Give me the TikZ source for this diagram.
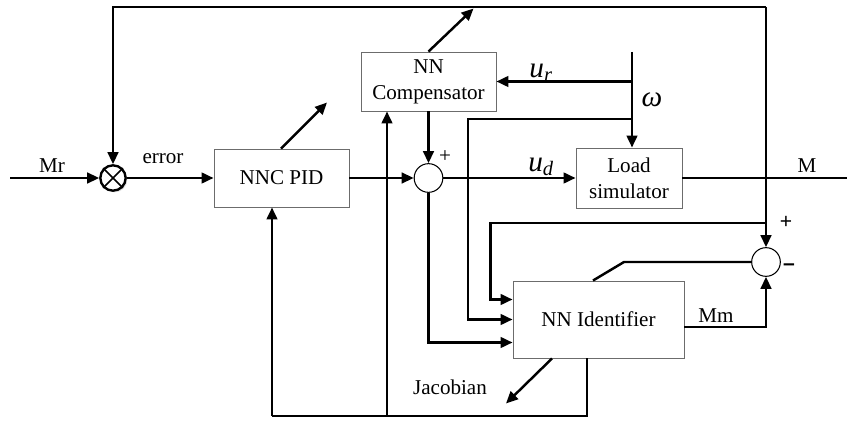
\documentclass[tikz,border=0pt]{standalone}
\usepackage{fontspec}
\setmainfont{Liberation Serif}
\setsansfont{Liberation Sans}
\usepackage{tikz}
\usetikzlibrary{arrows.meta,calc,positioning,shadows}
\tikzset{
    myblock/.style={draw=gray!85!black,line width=0.8pt,fill=white,align=center,inner sep=0pt},
    mysum/.style={circle,draw=black,line width=0.9pt,fill=white,minimum size=8.6mm,inner sep=0pt},
    mysig/.style={line width=2.1pt,draw=black,-{Triangle[length=3.6mm,width=3.2mm]}},
    myline/.style={line width=2.1pt,draw=black},
    mymath/.style={font=\fontsize{25}{27}\selectfont\itshape},
    every node/.style={font=\fontsize{18}{22}\selectfont}
}
\begin{document}
\begin{tikzpicture}[x=0.3mm,y=-0.3mm]
  \useasboundingbox (0,0) rectangle (847,421);
  \node[myblock,minimum width=40.5mm,minimum height=17.4mm] (pid) at (281.5,178) {NNC PID};
  \node[myblock,minimum width=40.5mm,minimum height=17.7mm] (comp) at (428.5,81.5) {NN\\Compensator};
  \node[myblock,minimum width=31.8mm,minimum height=18mm] (load) at (629,178) {Load\\simulator};
  \node[myblock,minimum width=51.3mm,minimum height=23.1mm] (ident) at (598.5,319.5) {NN Identifier};
  \node[mysum,line width=2pt,minimum size=7.6mm,
        drop shadow={opacity=0.25,shadow xshift=0.5mm,shadow yshift=-0.5mm}] (mult) at (113,178) {};
  \draw[line width=1.5pt] (mult.45) -- (mult.225) (mult.135) -- (mult.315);
  \node[mysum] (sum1) at (428.5,178) {};
  \node[mysum] (sum2) at (766,262) {};
  \coordinate (in) at (10,178);
  \coordinate (out) at (847,178);
  \coordinate (tr) at (766,7);
  \coordinate (w) at (632,52);
  \coordinate (wb) at (632,119);
  \coordinate (fb) at (587,416);
  \coordinate (bm) at (387,416);
  \coordinate (bl) at (272,416);
  \draw[mysig] (in) -- (mult.west);
  \draw[mysig] (mult.east) -- (pid.west);
  \draw[mysig] (pid.east) -- (sum1.west);
  \draw[mysig] (comp.south) -- (sum1.north);
  \draw[mysig] (sum1.east) -- (load.west);
  \draw[myline] (load.east) -- (out);
  \draw[mysig] (tr) -| (mult.north);
  \draw[mysig] (tr) -- (sum2.north);
  \draw[mysig] (w) -- (w |- load.north);
  \draw[mysig] (w |- comp.east) -- (comp.east);
  \draw[mysig] (wb) -| (468,319.5) -- (ident.west);
  \draw[mysig] (sum1.south) |- ($(ident.west)+(0,23)$);
  \draw[mysig] (766,223) -| ($(ident.west)+(-22,-20)$) -- ($(ident.west)+(0,-20)$);
  \draw[myline] ($(ident.north)+(-5.5,0)$) -- (624,262) -- (sum2.west);
  \draw[mysig] ($(ident.east)+(0,7.5)$) -| (sum2.south);
  \draw[mysig] ($(ident.south)+(-46.5,0)$) -- ++(-46,45);
  \draw[myline] ($(ident.south)+(-11.5,0)$) -- (fb) -- (bl);
  \draw[mysig] (bl) -- (bl |- pid.south);
  \draw[mysig] (bm) -- (bm |- comp.south);
  \draw[mysig] ($(pid.north)+(-0.5,0)$) -- ++(46,-46);
  \draw[mysig] (comp.north) -- ++(45,-43);
  \node (lmr) at (52,166) {Mr};
  \node (lerr) at (163,159) {error};
  \node (lm) at (807,166) {M};
  \node (lmm) at (716,316) {Mm};
  \node (ljac) at (450,387) {Jacobian};
  \node[mymath] (lur) at (541,73) {u\textsubscript{r}};
  \node[mymath] (lud) at (541,167) {u\textsubscript{d}};
  \node[mymath] (lw) at (652,100) {ω};
  \node (lp1) at (445,157) {+};
  \node (lp2) at (786,222) {\sffamily +};
  \node (lm2) at (789,267) {\sffamily\bfseries –};
\end{tikzpicture}
\end{document}
